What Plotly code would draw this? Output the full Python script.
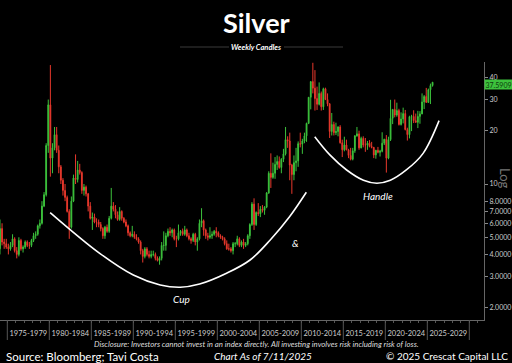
import plotly.graph_objects as go

# ---------------- data (quarterly candles) ----------------
years = list(range(1974, 2026))
first_open = 4.3
highs = [
    6.3, 6.0, 4.9, 4.9,      # 1974
    4.6, 4.7, 5.2, 5.0,      # 1975
    4.4, 5.0, 4.9, 4.5,      # 1976
    4.8, 4.8, 4.7, 4.9,      # 1977
    5.3, 5.4, 5.9, 6.3,      # 1978
    8.0, 9.0, 17.0, 30.0,    # 1979
    47.0, 17.0, 21.0, 21.0,  # 1980
    16.5, 12.8, 10.8, 10.0,  # 1981
    8.6, 7.2, 8.5, 11.3,     # 1982
    14.7, 13.5, 13.0, 11.8,  # 1983
    10.0, 9.8, 8.9, 7.9,     # 1984
    6.9, 6.8, 6.4, 6.3,      # 1985
    6.1, 5.7, 5.8, 5.9,      # 1986
    6.6, 9.5, 7.9, 7.6,      # 1987
    7.0, 7.4, 7.1, 6.5,      # 1988
    6.3, 5.9, 5.4, 5.8,      # 1989
    5.4, 5.2, 5.0, 4.8,      # 1990
    4.3, 4.4, 4.4, 4.2,      # 1991
    4.2, 4.2, 4.1, 3.9,      # 1992
    3.9, 4.7, 5.4, 5.3,      # 1993
    5.6, 5.7, 5.6, 5.6,      # 1994
    5.1, 5.9, 5.5, 5.6,      # 1995
    5.8, 5.6, 5.3, 5.0,      # 1996
    5.3, 5.3, 5.0, 6.3,      # 1997
    7.3, 6.3, 5.6, 5.3,      # 1998
    5.7, 5.4, 5.5, 5.7,      # 1999
    5.4, 5.2, 5.1, 5.0,      # 2000
    4.8, 4.6, 4.4, 4.7,      # 2001
    4.7, 5.1, 5.0, 4.8,      # 2002
    4.9, 4.7, 5.2, 6.0,      # 2003
    7.9, 8.3, 7.0, 7.8,      # 2004
    7.5, 7.6, 7.5, 9.0,      # 2005
    11.8, 14.9, 13.2, 14.2,  # 2006
    14.5, 14.3, 14.0, 15.8,  # 2007
    21.0, 18.6, 19.5, 13.0,  # 2008
    14.5, 16.0, 17.4, 19.5,  # 2009
    18.0, 19.5, 22.2, 31.0,  # 2010
    38.0, 48.4, 44.0, 35.5,  # 2011
    37.5, 33.3, 35.0, 35.0,  # 2012
    32.5, 28.6, 25.2, 22.5,  # 2013
    22.2, 21.2, 21.5, 17.8,  # 2014
    18.5, 17.8, 15.8, 16.0,  # 2015
    16.0, 18.9, 21.0, 20.0,  # 2016
    18.5, 18.6, 18.2, 17.5,  # 2017
    17.7, 17.3, 16.2, 15.6,  # 2018
    16.2, 15.6, 19.6, 18.0,  # 2019
    18.9, 18.5, 29.9, 26.5,  # 2020
    30.0, 28.8, 26.6, 25.4,  # 2021
    27.0, 26.2, 20.8, 24.3,  # 2022
    24.6, 26.1, 25.0, 25.9,  # 2023
    25.8, 32.5, 31.8, 34.9,  # 2024
    34.6, 36.9, 37.7,        # 2025
]
lows = [
    4.0, 4.5, 4.3, 4.3,      # 1974
    4.0, 4.2, 4.4, 4.1,      # 1975
    3.8, 3.9, 4.2, 4.1,      # 1976
    4.3, 4.4, 4.3, 4.4,      # 1977
    4.7, 4.9, 5.1, 5.6,      # 1978
    5.9, 7.4, 8.5, 15.0,     # 1979
    11.0, 11.5, 15.5, 15.0,  # 1980
    11.5, 10.0, 8.6, 8.0,    # 1981
    6.9, 4.9, 5.6, 7.9,      # 1982
    10.0, 10.2, 11.3, 8.8,   # 1983
    8.6, 8.5, 7.0, 6.3,      # 1984
    5.5, 6.0, 5.7, 5.7,      # 1985
    5.4, 4.9, 4.9, 5.3,      # 1986
    5.3, 6.3, 7.0, 6.4,      # 1987
    6.2, 6.2, 6.2, 6.0,      # 1988
    5.7, 5.1, 5.0, 5.0,      # 1989
    4.9, 4.8, 4.6, 4.0,      # 1990
    3.6, 3.8, 3.9, 3.8,      # 1991
    3.8, 3.9, 3.7, 3.65,     # 1992
    3.5, 3.7, 4.2, 4.2,      # 1993
    5.0, 5.1, 5.0, 4.8,      # 1994
    4.4, 4.8, 5.1, 5.1,      # 1995
    5.1, 5.0, 4.8, 4.6,      # 1996
    4.7, 4.5, 4.2, 4.8,      # 1997
    5.7, 5.1, 4.9, 4.8,      # 1998
    4.9, 4.9, 5.1, 5.0,      # 1999
    5.0, 4.9, 4.8, 4.5,      # 2000
    4.25, 4.2, 4.1, 4.0,     # 2001
    4.4, 4.5, 4.4, 4.4,      # 2002
    4.3, 4.4, 4.5, 4.9,      # 2003
    5.8, 5.5, 5.8, 6.6,      # 2004
    6.5, 6.9, 6.7, 7.3,      # 2005
    8.8, 9.5, 10.7, 10.7,    # 2006
    12.0, 12.2, 11.5, 13.3,  # 2007
    14.5, 16.0, 10.5, 8.8,   # 2008
    10.5, 11.8, 12.5, 16.1,  # 2009
    14.8, 17.0, 17.3, 21.8,  # 2010
    26.4, 32.5, 26.0, 26.2,  # 2011
    27.8, 26.0, 26.2, 29.8,  # 2012
    27.5, 18.2, 18.8, 18.8,  # 2013
    18.9, 18.6, 16.9, 14.2,  # 2014
    15.3, 15.5, 14.0, 13.6,  # 2015
    13.6, 15.0, 18.5, 15.6,  # 2016
    15.9, 16.1, 15.2, 15.6,  # 2017
    16.1, 15.9, 14.0, 13.9,  # 2018
    14.9, 14.3, 15.1, 16.6,  # 2019
    11.6, 13.8, 17.5, 21.8,  # 2020
    23.8, 24.0, 21.4, 21.4,  # 2021
    22.0, 20.1, 17.6, 18.1,  # 2022
    19.9, 22.1, 22.2, 20.7,  # 2023
    21.9, 24.8, 26.5, 28.8,  # 2024
    28.8, 28.3, 35.5,        # 2025
]
closes = [
    5.6, 4.7, 4.6, 4.4,      # 1974
    4.3, 4.5, 4.9, 4.2,      # 1975
    4.0, 4.8, 4.3, 4.4,      # 1976
    4.7, 4.5, 4.5, 4.8,      # 1977
    5.1, 5.2, 5.8, 6.0,      # 1978
    7.5, 8.7, 16.5, 28.0,    # 1979
    14.0, 16.0, 19.0, 15.5,  # 1980
    12.5, 10.5, 9.2, 8.4,    # 1981
    7.0, 5.7, 8.0, 10.8,     # 1982
    10.6, 12.0, 11.6, 9.2,   # 1983
    9.6, 8.8, 7.5, 6.4,      # 1984
    6.5, 6.1, 6.1, 5.9,      # 1985
    5.6, 5.1, 5.7, 5.4,      # 1986
    6.4, 7.5, 7.2, 6.7,      # 1987
    6.3, 7.0, 6.4, 6.1,      # 1988
    5.8, 5.3, 5.1, 5.2,      # 1989
    5.0, 4.9, 4.7, 4.2,      # 1990
    3.9, 4.3, 4.0, 3.9,      # 1991
    4.0, 4.0, 3.8, 3.7,      # 1992
    3.8, 4.5, 4.5, 5.1,      # 1993
    5.4, 5.3, 5.5, 4.9,      # 1994
    4.9, 5.3, 5.4, 5.2,      # 1995
    5.5, 5.1, 4.9, 4.8,      # 1996
    5.2, 4.7, 4.9, 6.0,      # 1997
    6.2, 5.5, 5.1, 5.0,      # 1998
    5.1, 5.2, 5.4, 5.3,      # 1999
    5.1, 5.0, 4.9, 4.6,      # 2000
    4.3, 4.3, 4.2, 4.6,      # 2001
    4.6, 4.9, 4.5, 4.7,      # 2002
    4.5, 4.6, 5.1, 5.9,      # 2003
    7.7, 5.9, 6.9, 6.8,      # 2004
    7.2, 7.1, 7.4, 8.9,      # 2005
    11.5, 10.9, 11.5, 12.9,  # 2006
    13.4, 12.4, 13.8, 14.8,  # 2007
    17.8, 17.5, 12.8, 11.3,  # 2008
    13.2, 13.5, 16.9, 16.8,  # 2009
    17.5, 18.7, 22.0, 30.9,  # 2010
    37.9, 34.8, 30.4, 28.2,  # 2011
    32.5, 27.3, 34.5, 30.0,  # 2012
    28.4, 19.8, 21.7, 19.5,  # 2013
    19.8, 21.0, 17.1, 15.6,  # 2014
    16.6, 15.6, 14.5, 13.8,  # 2015
    15.4, 18.7, 19.2, 16.0,  # 2016
    18.1, 16.6, 16.6, 17.0,  # 2017
    16.3, 16.1, 14.6, 15.5,  # 2018
    15.1, 15.3, 17.0, 17.9,  # 2019
    14.0, 17.8, 23.5, 26.4,  # 2020
    24.5, 26.0, 21.7, 23.3,  # 2021
    25.0, 20.3, 19.0, 24.0,  # 2022
    24.1, 22.8, 22.3, 24.1,  # 2023
    24.9, 29.1, 31.2, 28.9,  # 2024
    34.1, 36.0, 37.59,       # 2025
]
last_price_label = "37.5909"

period_labels = ["1975-1979", "1980-1984", "1985-1989", "1990-1994", "1995-1999",
                 "2000-2004", "2005-2009", "2010-2014", "2015-2019", "2020-2024", "2025-2029"]
period_starts = [1975, 1980, 1985, 1990, 1995, 2000, 2005, 2010, 2015, 2020, 2025]

y_tick_vals = [2, 3, 4, 5, 6, 7, 8, 10, 20, 30, 40]
y_tick_text = ["2.0000", "3.0000", "4.0000", "5.0000", "6.0000", "7.0000", "8.0000",
               "10", "20", "30", "40"]

# hand-drawn pattern arcs (year, price)
cup_years = [1980.1, 1986.0, 1990.0, 1993.2, 1995.6, 1997.9, 2001.1, 2003.9, 2006.3, 2008.6, 2010.6]
cup_prices = [6.9, 4.06, 3.06, 2.69, 2.61, 2.72, 3.13, 3.72, 4.83, 6.53, 8.98]
handle_years = [2011.6, 2013.4, 2015.4, 2017.4, 2019.0, 2020.6, 2022.5, 2024.5, 2026.4]
handle_prices = [18.5, 14.6, 12.0, 10.5, 10.1, 10.5, 12.0, 14.9, 22.8]

# ---------------- build ----------------
xq = []
for yr in years:
    for q in range(4):
        xq.append(yr + 0.125 + 0.25 * q)
xq = xq[:len(closes)]
opens = [first_open] + closes[:-1]

GREEN = "#3cc23c"
RED = "#e8382c"
FONT = "Lato"

fig = go.Figure()
fig.add_trace(go.Candlestick(
    x=xq, open=opens, high=highs, low=lows, close=closes,
    increasing=dict(line=dict(color=GREEN, width=1), fillcolor=GREEN),
    decreasing=dict(line=dict(color=RED, width=1), fillcolor=RED),
    whiskerwidth=0, showlegend=False, hoverinfo="skip",
))
fig.add_trace(go.Scatter(x=cup_years, y=cup_prices, mode="lines",
                         line=dict(color="white", width=1.6, shape="spline"),
                         showlegend=False, hoverinfo="skip"))
fig.add_trace(go.Scatter(x=handle_years, y=handle_prices, mode="lines",
                         line=dict(color="white", width=1.6, shape="spline"),
                         showlegend=False, hoverinfo="skip"))

W, H = 512, 363
ML, MR, MT, MB = 0, 28, 62, 43
PW, PH = W - ML - MR, H - MT - MB


def py(Y):
    return (H - MB - Y) / PH


def px(X):
    return (X - ML) / PW


def note(text, X, Y, size, color="white", xanchor="center", **kw):
    return dict(text=text, x=px(X), xref="paper", xanchor=xanchor,
                y=py(Y), yref="paper", yanchor="middle", showarrow=False,
                font=dict(family=FONT, size=size, color=color), **kw)


annotations = [
    note("<b>Silver</b>", 256, 23, 27),
    note("<b><i>Weekly Candles</i></b>", 256, 48, 7.5),
    note("<i>Cup</i>", 181, 299, 10),
    note("<i>&</i>", 295, 243, 10),
    note("<i>Handle</i>", 378, 196, 10),
    note("Log", 505, 178, 13, color="#777777", textangle=90),
    note(last_price_label, 484, 84, 7, color="#0e3a0e", xanchor="left",
         bgcolor=GREEN, borderpad=0.5),
    note("<i>Disclosure: Investors cannot invest in an index directly. All investing involves risk including risk of loss.</i>",
         256, 344, 7.8, color="#dddddd"),
    note("Source: Bloomberg; Tavi Costa", 4, 356, 11.5, xanchor="left"),
    note("<i>Chart As of 7/11/2025</i>", 263, 356, 10),
    note("© 2025 Crescat Capital LLC", 510, 356, 10, xanchor="right"),
]

shapes = [
    dict(type="line", xref="paper", yref="paper", x0=px(180), x1=px(229), y0=py(47), y1=py(47),
         line=dict(color="#3a3a3a", width=1)),
    dict(type="line", xref="paper", yref="paper", x0=px(284), x1=px(343), y0=py(47), y1=py(47),
         line=dict(color="#3a3a3a", width=1)),
]
for s in period_starts + [period_starts[-1] + 5]:
    shapes.append(dict(type="line", xref="x", yref="paper", x0=s, x1=s, y0=0, y1=py(340),
                       line=dict(color="#555555", width=1)))

fig.update_layout(
    width=W, height=H,
    margin=dict(l=ML, r=MR, t=MT, b=MB),
    paper_bgcolor="black", plot_bgcolor="black",
    showlegend=False, boxgap=0.45,
    annotations=annotations, shapes=shapes,
    xaxis=dict(
        type="linear", range=[1974.13, 2031.75],
        rangeslider=dict(visible=False),
        showgrid=False, zeroline=False,
        showline=True, linecolor="#666666", linewidth=1,
        tickmode="array",
        tickvals=[s + 2.5 for s in period_starts], ticktext=period_labels,
        ticks="", ticklabelstandoff=6,
        tickfont=dict(family=FONT, size=7.5, color="#cccccc"),
        minor=dict(ticks="outside", ticklen=2, dtick=1, tick0=1975, tickcolor="#555555"),
    ),
    yaxis=dict(
        type="log", range=[0.2316, 1.6893], side="right",
        showgrid=False, zeroline=False,
        showline=True, linecolor="#666666", linewidth=1,
        tickmode="array", tickvals=y_tick_vals, ticktext=y_tick_text,
        ticks="outside", ticklen=3, tickcolor="#888888",
        tickfont=dict(family=FONT, size=7, color="#cccccc"),
    ),
)

fig.write_html(
    "out.html",
    config={"displayModeBar": False, "staticPlot": True},
    post_script="document.body.style.margin='0';document.body.style.overflow='hidden';document.body.style.background='black';",
)
